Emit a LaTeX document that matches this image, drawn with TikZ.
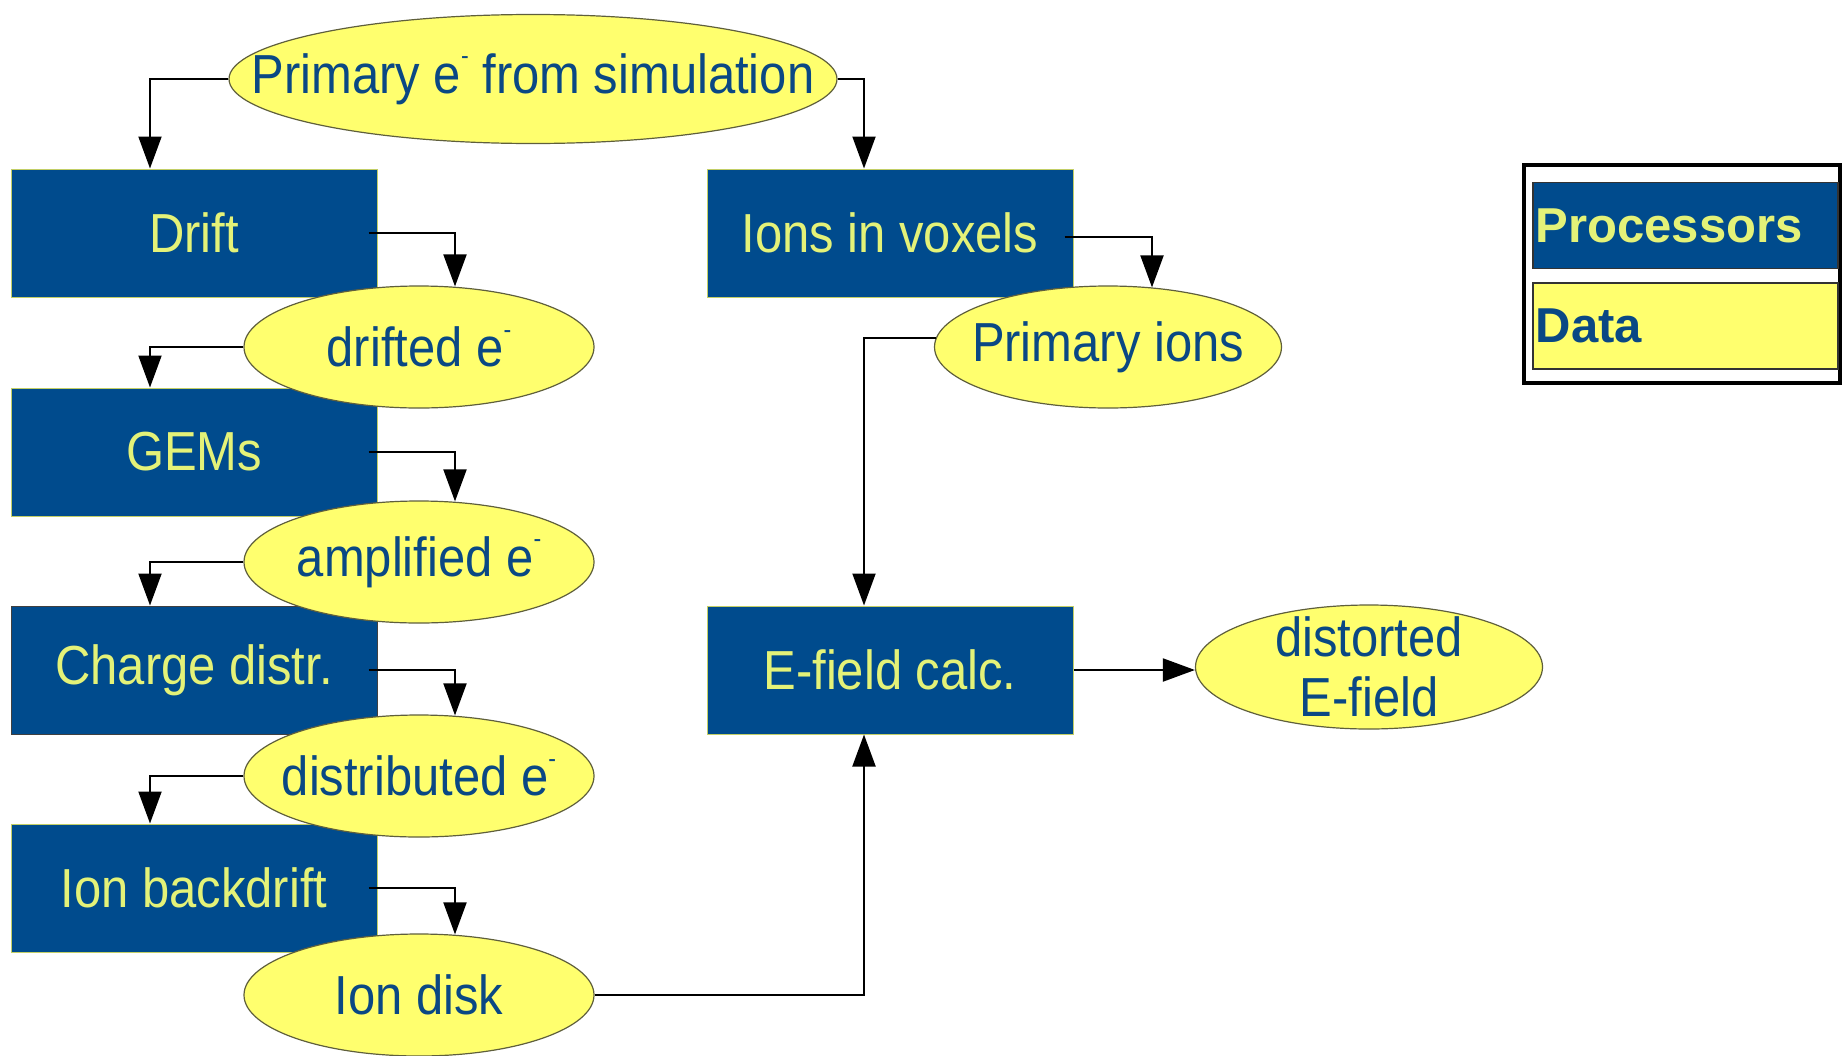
\documentclass[tikz,border=0pt]{standalone}
\usepackage{fontspec}
\setmainfont{Liberation Sans}[FakeStretch=0.89]
\newfontfamily\legfont{Liberation Sans}
\usetikzlibrary{shapes.geometric,arrows.meta,calc}
\definecolor{procblue}{RGB}{0,75,141}
\definecolor{proctext}{RGB}{228,242,120}
\definecolor{datafill}{RGB}{255,255,110}
\definecolor{datatext}{RGB}{10,72,132}
\definecolor{datadraw}{RGB}{95,95,60}
\newcommand{\eminus}{e\raisebox{0.52em}{\fontsize{26}{26}\selectfont -}}
\begin{document}
\begin{tikzpicture}[x=1pt,y=-1pt,
 proc/.style={rectangle, fill=procblue, draw=proctext!85!black, line width=1pt,
   minimum width=366pt, minimum height=128pt, inner sep=0pt, text=proctext,
   font=\fontsize{55}{60}\selectfont},
 datshape/.style={ellipse, fill=datafill, draw=datadraw, line width=1.2pt,
   minimum width=350pt, minimum height=122pt, inner sep=0pt},
 dattext/.style={inner sep=0pt, text=datatext, align=center,
   font=\fontsize{55}{60}\selectfont},
 link/.style={draw=black, line width=2pt, -{Triangle[length=32pt,width=23pt]}},
 legbox/.style={rectangle, draw=black!80, line width=1.2pt, minimum width=305pt,
   minimum height=86pt, inner sep=0pt}]
\useasboundingbox (0,0) rectangle (1843,1055);

% processors
\node[proc] (drift) at (194,233) {Drift};
\node[proc] (gems) at (194,452) {GEMs};
\node[proc, draw=black!75] (charge) at (194,670) {Charge distr.};
\node[proc] (backdrift) at (194,888) {Ion backdrift};
\node[proc] (voxels) at (890,233) {Ions in voxels};
\node[proc] (efield) at (890,670) {E-field calc.};

% data
\node[datshape, minimum width=608pt, minimum height=129pt] (prim) at (533,79) {};
\node[dattext] (primT) at (prim) {Primary \eminus{} from simulation};
\node[datshape] (drifted) at (419,347) {};
\node[dattext] (driftedT) at (drifted) {drifted \eminus};
\node[datshape] (amplified) at (419,562) {};
\node[dattext] (amplifiedT) at (amplified) {amplified \eminus};
\node[datshape] (distributed) at (419,776) {};
\node[dattext] (distributedT) at (distributed) {distributed \eminus};
\node[datshape] (iondisk) at (419,995) {};
\node[dattext] (iondiskT) at (iondisk) {Ion disk};
\node[datshape, minimum width=347pt] (primions) at (1108,347) {};
\node[dattext] (primionsT) at (primions) {Primary ions};
\node[datshape, minimum width=347pt, minimum height=124pt] (distorted) at (1369,667) {};
\node[dattext] (distortedT) at (distorted) {distorted\\E-field};

% connectors
\draw[link] (prim.west) -| ([xshift=-44pt]drift.north);
\draw[link] (prim.east) -| ([xshift=-26pt]voxels.north);
\draw[link] ([xshift=-9pt]drift.east) -| ([xshift=36pt,yshift=-1pt]drifted.north);
\draw[link] (drifted.west) -| ([xshift=-44pt]gems.north);
\draw[link] ([xshift=-9pt]gems.east) -| ([xshift=36pt,yshift=-1pt]amplified.north);
\draw[link] (amplified.west) -| ([xshift=-44pt]charge.north);
\draw[link] ([xshift=-9pt]charge.east) -| ([xshift=36pt,yshift=-1pt]distributed.north);
\draw[link] (distributed.west) -| ([xshift=-44pt]backdrift.north);
\draw[link] ([xshift=-9pt]backdrift.east) -| ([xshift=36pt,yshift=-1pt]iondisk.north);
\draw[link] (iondisk.east) -| ([xshift=-26pt]efield.south);
\draw[link] ([xshift=-9pt,yshift=-4pt]voxels.east) -| ([xshift=44pt,yshift=-2pt]primions.north);
\draw[link] ([xshift=2pt,yshift=9pt]primions.west) -| ([xshift=-26pt]efield.north);
\draw[link] (efield.east) -- (efield.east -| distorted.west);

% legend
\node[rectangle, draw=black, line width=3.5pt, fill=white, minimum width=316pt,
  minimum height=218pt, inner sep=0pt] (legend) at (1682,274) {};
\node[legbox, fill=procblue] (legproc) at (1685.5,225.5) {};
\node[anchor=west, inner sep=0pt, text=proctext, font=\legfont\bfseries\fontsize{49}{55}\selectfont]
  (legprocT) at ([xshift=3pt]legproc.west) {Processors};
\node[legbox, fill=datafill] (legdata) at (1685.5,326) {};
\node[anchor=west, inner sep=0pt, text=datatext, font=\legfont\bfseries\fontsize{49}{55}\selectfont]
  (legdataT) at ([xshift=3pt]legdata.west) {Data};
\end{tikzpicture}
\end{document}
